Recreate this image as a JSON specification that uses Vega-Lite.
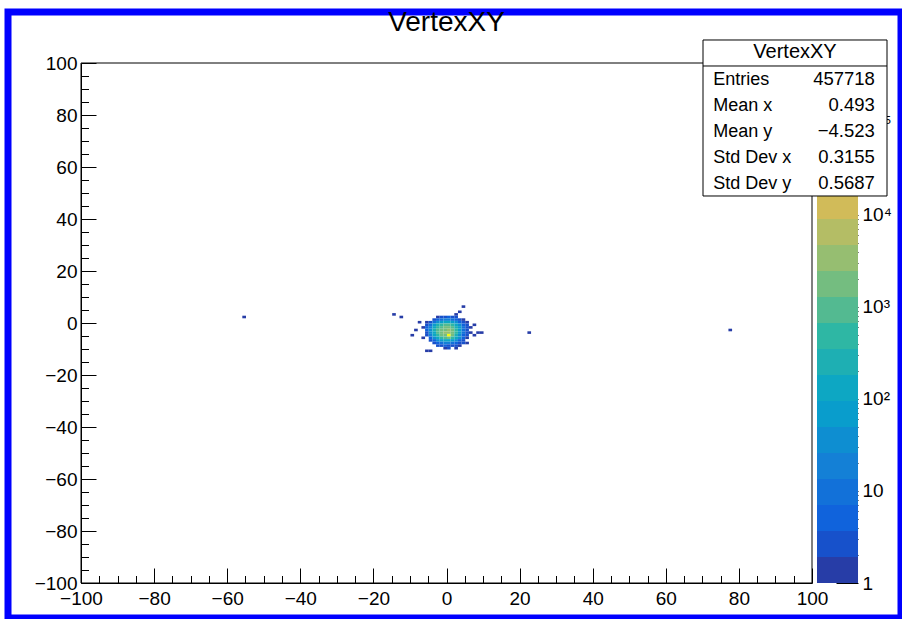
{
  "$schema": "https://vega.github.io/schema/vega-lite/v6.json",
  "width": 893,
  "height": 606,
  "autosize": "none",
  "padding": {"left": 8, "top": 12, "right": 1, "bottom": 1},
  "background": "white",
  "config": {
    "view": {"stroke": "#0000ff", "strokeWidth": 7, "fill": "white"},
    "font": "Liberation Sans",
    "axis": {"grid": false, "labelFont": "Liberation Sans", "labelFontSize": 19, "labelColor": "black", "tickColor": "black", "domainColor": "black", "tickWidth": 1, "domainWidth": 1, "labelFlush": false, "labelOverlap": false, "zindex": 1}
  },
  "datasets": {
    "bins": [
      {"x": 4, "y": 6, "n": 1},
      {"x": 3, "y": 4, "n": 1},
      {"x": 2, "y": 3, "n": 1}, {"x": -15, "y": 3, "n": 1},
      {"x": -56, "y": 2, "n": 1}, {"x": -13, "y": 2, "n": 1}, {"x": -3, "y": 2, "n": 1}, {"x": -2, "y": 2, "n": 3}, {"x": -1, "y": 2, "n": 3}, {"x": 0, "y": 2, "n": 5}, {"x": 1, "y": 2, "n": 3}, {"x": 2, "y": 2, "n": 3},
      {"x": -4, "y": 1, "n": 3}, {"x": -3, "y": 1, "n": 5}, {"x": -2, "y": 1, "n": 10}, {"x": -1, "y": 1, "n": 20}, {"x": 0, "y": 1, "n": 20}, {"x": 1, "y": 1, "n": 10}, {"x": 2, "y": 1, "n": 5}, {"x": 3, "y": 1, "n": 3}, {"x": 4, "y": 1, "n": 1},
      {"x": -8, "y": 0, "n": 1}, {"x": -6, "y": 0, "n": 1}, {"x": -5, "y": 0, "n": 3}, {"x": -4, "y": 0, "n": 10}, {"x": -3, "y": 0, "n": 35}, {"x": -2, "y": 0, "n": 70}, {"x": -1, "y": 0, "n": 130}, {"x": 0, "y": 0, "n": 130}, {"x": 1, "y": 0, "n": 70}, {"x": 2, "y": 0, "n": 35}, {"x": 3, "y": 0, "n": 5}, {"x": 4, "y": 0, "n": 3}, {"x": 5, "y": 0, "n": 1},
      {"x": -6, "y": -1, "n": 3}, {"x": -5, "y": -1, "n": 10}, {"x": -4, "y": -1, "n": 70}, {"x": -3, "y": -1, "n": 250}, {"x": -2, "y": -1, "n": 500}, {"x": -1, "y": -1, "n": 900}, {"x": 0, "y": -1, "n": 900}, {"x": 1, "y": -1, "n": 500}, {"x": 2, "y": -1, "n": 130}, {"x": 3, "y": -1, "n": 35}, {"x": 4, "y": -1, "n": 5}, {"x": 5, "y": -1, "n": 3}, {"x": 7, "y": -1, "n": 1},
      {"x": -7, "y": -2, "n": 1}, {"x": -6, "y": -2, "n": 5}, {"x": -5, "y": -2, "n": 20}, {"x": -4, "y": -2, "n": 130}, {"x": -3, "y": -2, "n": 500}, {"x": -2, "y": -2, "n": 900}, {"x": -1, "y": -2, "n": 1800}, {"x": 0, "y": -2, "n": 1800}, {"x": 1, "y": -2, "n": 900}, {"x": 2, "y": -2, "n": 250}, {"x": 3, "y": -2, "n": 70}, {"x": 4, "y": -2, "n": 10}, {"x": 5, "y": -2, "n": 3}, {"x": 6, "y": -2, "n": 1},
      {"x": -9, "y": -3, "n": 1}, {"x": -6, "y": -3, "n": 5}, {"x": -5, "y": -3, "n": 35}, {"x": -4, "y": -3, "n": 250}, {"x": -3, "y": -3, "n": 900}, {"x": -2, "y": -3, "n": 1800}, {"x": -1, "y": -3, "n": 1800}, {"x": 0, "y": -3, "n": 3500}, {"x": 1, "y": -3, "n": 1800}, {"x": 2, "y": -3, "n": 500}, {"x": 3, "y": -3, "n": 70}, {"x": 4, "y": -3, "n": 10}, {"x": 5, "y": -3, "n": 3}, {"x": 77, "y": -3, "n": 1},
      {"x": -6, "y": -4, "n": 3}, {"x": -5, "y": -4, "n": 35}, {"x": -4, "y": -4, "n": 130}, {"x": -3, "y": -4, "n": 900}, {"x": -2, "y": -4, "n": 1800}, {"x": -1, "y": -4, "n": 3500}, {"x": 0, "y": -4, "n": 3500}, {"x": 1, "y": -4, "n": 1800}, {"x": 2, "y": -4, "n": 500}, {"x": 3, "y": -4, "n": 70}, {"x": 4, "y": -4, "n": 10}, {"x": 5, "y": -4, "n": 3}, {"x": 6, "y": -4, "n": 1}, {"x": 8, "y": -4, "n": 1}, {"x": 9, "y": -4, "n": 1}, {"x": 22, "y": -4, "n": 1},
      {"x": -10, "y": -5, "n": 1}, {"x": -6, "y": -5, "n": 3}, {"x": -5, "y": -5, "n": 20}, {"x": -4, "y": -5, "n": 130}, {"x": -3, "y": -5, "n": 500}, {"x": -2, "y": -5, "n": 1800}, {"x": -1, "y": -5, "n": 1800}, {"x": 0, "y": -5, "n": 440000}, {"x": 1, "y": -5, "n": 1800}, {"x": 2, "y": -5, "n": 250}, {"x": 3, "y": -5, "n": 35}, {"x": 4, "y": -5, "n": 5}, {"x": 5, "y": -5, "n": 3}, {"x": 7, "y": -5, "n": 1},
      {"x": -7, "y": -6, "n": 1}, {"x": -5, "y": -6, "n": 5}, {"x": -4, "y": -6, "n": 35}, {"x": -3, "y": -6, "n": 130}, {"x": -2, "y": -6, "n": 500}, {"x": -1, "y": -6, "n": 900}, {"x": 0, "y": -6, "n": 1800}, {"x": 1, "y": -6, "n": 500}, {"x": 2, "y": -6, "n": 130}, {"x": 3, "y": -6, "n": 35}, {"x": 4, "y": -6, "n": 5}, {"x": 5, "y": -6, "n": 1},
      {"x": -5, "y": -7, "n": 3}, {"x": -4, "y": -7, "n": 5}, {"x": -3, "y": -7, "n": 35}, {"x": -2, "y": -7, "n": 70}, {"x": -1, "y": -7, "n": 130}, {"x": 0, "y": -7, "n": 130}, {"x": 1, "y": -7, "n": 70}, {"x": 2, "y": -7, "n": 35}, {"x": 3, "y": -7, "n": 5}, {"x": 4, "y": -7, "n": 3},
      {"x": -4, "y": -8, "n": 3}, {"x": -3, "y": -8, "n": 5}, {"x": -2, "y": -8, "n": 10}, {"x": -1, "y": -8, "n": 20}, {"x": 0, "y": -8, "n": 20}, {"x": 1, "y": -8, "n": 10}, {"x": 2, "y": -8, "n": 5}, {"x": 3, "y": -8, "n": 3}, {"x": 4, "y": -8, "n": 3}, {"x": 5, "y": -8, "n": 1},
      {"x": -3, "y": -9, "n": 3}, {"x": -2, "y": -9, "n": 3}, {"x": -1, "y": -9, "n": 5}, {"x": 0, "y": -9, "n": 3}, {"x": 1, "y": -9, "n": 3}, {"x": 2, "y": -9, "n": 3}, {"x": 3, "y": -9, "n": 1},
      {"x": -1, "y": -10, "n": 1}, {"x": 0, "y": -10, "n": 3}, {"x": 2, "y": -10, "n": 1},
      {"x": -6, "y": -11, "n": 1}, {"x": -5, "y": -11, "n": 1}
    ],
    "bands": [
      {"lo": 1, "hi": 1.9175}, {"lo": 1.9175, "hi": 3.6752}, {"lo": 3.6752, "hi": 7.0453}, {"lo": 7.0453, "hi": 13.5}, {"lo": 13.5, "hi": 25.88},
      {"lo": 25.88, "hi": 49.62}, {"lo": 49.62, "hi": 95.1}, {"lo": 95.1, "hi": 182.3}, {"lo": 182.3, "hi": 349.5}, {"lo": 349.5, "hi": 669.9},
      {"lo": 669.9, "hi": 1284}, {"lo": 1284, "hi": 2462}, {"lo": 2462, "hi": 4719}, {"lo": 4719, "hi": 9047}, {"lo": 9047, "hi": 17338},
      {"lo": 17338, "hi": 33235}, {"lo": 33235, "hi": 63710}, {"lo": 63710, "hi": 122120}, {"lo": 122120, "hi": 234100}, {"lo": 234100, "hi": 448700}
    ],
    "stats": [
      {"label": "Entries", "value": "457718"},
      {"label": "Mean x", "value": "0.493"},
      {"label": "Mean y", "value": "−4.523"},
      {"label": "Std Dev x", "value": "0.3155"},
      {"label": "Std Dev y", "value": "0.5687"}
    ]
  },
  "resolve": {"scale": {"y": "independent"}, "axis": {"x": "independent", "y": "independent"}},
  "layer": [
    {
      "data": {"name": "bins"},
      "mark": {"type": "rect"},
      "encoding": {
        "x": {"field": "x", "type": "quantitative", "bin": {"binned": true, "step": 1},
              "scale": {"domain": [-100, 100], "range": [73, 804], "nice": false, "zero": false},
              "axis": {"orient": "bottom", "offset": -35, "values": [-100, -80, -60, -40, -20, 0, 20, 40, 60, 80, 100], "format": "d", "tickSize": -15, "labelPadding": 21, "title": null}},
        "y": {"field": "y", "type": "quantitative", "bin": {"binned": true, "step": 1},
              "scale": {"domain": [-100, 100], "range": [571, 51], "nice": false, "zero": false},
              "axis": {"orient": "left", "offset": -73, "values": [-100, -80, -60, -40, -20, 0, 20, 40, 60, 80, 100], "format": "d", "tickSize": -15, "labelPadding": 19, "labelBaseline": "middle", "title": null}},
        "color": {"field": "n", "type": "quantitative",
                  "scale": {"type": "threshold", "domain": [1.9175, 3.6752, 7.0453, 13.5, 25.88, 49.62, 95.1, 182.3, 349.5, 669.9, 1284, 2462, 4719, 9047, 17338, 33235, 63710, 122120, 234100],
                            "range": ["#273da7", "#1751cb", "#1063dc", "#1271d9", "#1480d6", "#0e8ed1", "#099dcc", "#0da7c3", "#1eafb3", "#2eb7a4", "#53ba91", "#74bd80", "#96be71", "#b4bd65", "#d1bb59", "#e3c04a", "#f5c63a", "#fdd32a", "#fbe81c", "#f9fb0e"]},
                  "legend": null}
      }
    },
    {
      "data": {"values": [{}]},
      "mark": {"type": "rect", "fillOpacity": 0, "stroke": "black", "strokeWidth": 1},
      "encoding": {
        "x": {"datum": -100, "type": "quantitative",
              "scale": {"domain": [-100, 100], "range": [73, 804], "nice": false, "zero": false},
              "axis": {"orient": "bottom", "offset": -35, "values": [-95, -90, -85, -75, -70, -65, -55, -50, -45, -35, -30, -25, -15, -10, -5, 5, 10, 15, 25, 30, 35, 45, 50, 55, 65, 70, 75, 85, 90, 95], "tickSize": -7.5, "labels": false, "domain": false, "title": null}},
        "x2": {"datum": 100},
        "y": {"datum": -100, "type": "quantitative",
              "scale": {"domain": [-100, 100], "range": [571, 51], "nice": false, "zero": false},
              "axis": {"orient": "left", "offset": -73, "values": [-95, -90, -85, -75, -70, -65, -55, -50, -45, -35, -30, -25, -15, -10, -5, 5, 10, 15, 25, 30, 35, 45, 50, 55, 65, 70, 75, 85, 90, 95], "tickSize": -7.5, "labels": false, "domain": false, "title": null}},
        "y2": {"datum": 100}
      }
    },
    {
      "data": {"name": "bands"},
      "mark": {"type": "rect"},
      "encoding": {
        "x": {"datum": 101.37, "type": "quantitative", "scale": {"domain": [-100, 100], "range": [73, 804], "nice": false, "zero": false}, "axis": null},
        "x2": {"datum": 112.59},
        "y": {"field": "lo", "type": "quantitative",
              "scale": {"type": "log", "domain": [1, 448700], "range": [571, 51], "nice": false},
              "axis": {"orient": "right", "offset": -43, "values": [2, 3, 4, 5, 6, 7, 8, 9, 20, 30, 40, 50, 60, 70, 80, 90, 200, 300, 400, 500, 600, 700, 800, 900, 2000, 3000, 4000, 5000, 6000, 7000, 8000, 9000], "tickSize": -11, "labels": false, "domain": false, "title": null}},
        "y2": {"field": "hi"},
        "color": {"field": "lo", "type": "quantitative",
                  "scale": {"type": "threshold", "domain": [1.9175, 3.6752, 7.0453, 13.5, 25.88, 49.62, 95.1, 182.3, 349.5, 669.9, 1284, 2462, 4719, 9047, 17338, 33235, 63710, 122120, 234100],
                            "range": ["#273da7", "#1751cb", "#1063dc", "#1271d9", "#1480d6", "#0e8ed1", "#099dcc", "#0da7c3", "#1eafb3", "#2eb7a4", "#53ba91", "#74bd80", "#96be71", "#b4bd65", "#d1bb59", "#e3c04a", "#f5c63a", "#fdd32a", "#fbe81c", "#f9fb0e"]},
                  "legend": null}
      }
    },
    {
      "data": {"name": "bands"},
      "mark": {"type": "rect", "opacity": 0},
      "encoding": {
        "x": {"datum": 101.37, "type": "quantitative", "scale": {"domain": [-100, 100], "range": [73, 804], "nice": false, "zero": false}, "axis": null},
        "x2": {"datum": 112.59},
        "y": {"field": "lo", "type": "quantitative",
              "scale": {"type": "log", "domain": [1, 448700], "range": [571, 51], "nice": false},
              "axis": {"orient": "right", "offset": -43, "values": [1, 10, 100, 1000, 10000], "tickSize": -22, "labels": false, "domain": false, "title": null}},
        "y2": {"field": "hi"}
      }
    },
    {
      "data": {"values": [{}]},
      "mark": {"type": "rect", "fill": "white", "stroke": "black", "strokeWidth": 1},
      "encoding": {
        "x": {"datum": 70.18, "type": "quantitative", "scale": {"domain": [-100, 100], "range": [73, 804], "nice": false, "zero": false}, "axis": null},
        "x2": {"datum": 120.52},
        "y": {"datum": 48.85, "type": "quantitative", "scale": {"domain": [-100, 100], "range": [571, 51], "nice": false, "zero": false}, "axis": null},
        "y2": {"datum": 108.85}
      }
    },
    {
      "data": {"values": [{}]},
      "mark": {"type": "rule", "color": "black", "strokeWidth": 1},
      "encoding": {
        "x": {"datum": 70.18, "type": "quantitative", "scale": {"domain": [-100, 100], "range": [73, 804], "nice": false, "zero": false}, "axis": null},
        "x2": {"datum": 120.52},
        "y": {"datum": 98.85, "type": "quantitative", "scale": {"domain": [-100, 100], "range": [571, 51], "nice": false, "zero": false}, "axis": null}
      }
    },
    {
      "data": {"values": [{}]},
      "mark": {"type": "text", "text": "VertexXY", "font": "Liberation Sans", "fontSize": 20, "align": "center", "baseline": "alphabetic", "color": "black"},
      "encoding": {
        "x": {"datum": 95.35, "type": "quantitative", "scale": {"domain": [-100, 100], "range": [73, 804], "nice": false, "zero": false}, "axis": null},
        "y": {"datum": 101.9, "type": "quantitative", "scale": {"domain": [-100, 100], "range": [571, 51], "nice": false, "zero": false}, "axis": null}
      }
    },
    {
      "data": {"name": "stats"},
      "mark": {"type": "text", "font": "Liberation Sans", "fontSize": 18, "align": "left", "baseline": "alphabetic", "color": "black"},
      "encoding": {
        "x": {"datum": 73.0, "type": "quantitative", "scale": {"domain": [-100, 100], "range": [73, 804], "nice": false, "zero": false}, "axis": null},
        "y": {"field": "label", "type": "ordinal", "scale": {"type": "point", "domain": ["Entries", "Mean x", "Mean y", "Std Dev x", "Std Dev y"], "range": [73, 176.5], "padding": 0}, "axis": null},
        "text": {"field": "label"}
      }
    },
    {
      "data": {"name": "stats"},
      "mark": {"type": "text", "font": "Liberation Sans", "fontSize": 18.5, "align": "right", "baseline": "alphabetic", "color": "black"},
      "encoding": {
        "x": {"datum": 117.2, "type": "quantitative", "scale": {"domain": [-100, 100], "range": [73, 804], "nice": false, "zero": false}, "axis": null},
        "y": {"field": "label", "type": "ordinal", "scale": {"type": "point", "domain": ["Entries", "Mean x", "Mean y", "Std Dev x", "Std Dev y"], "range": [73, 176.5], "padding": 0}, "axis": null},
        "text": {"field": "value"}
      }
    },
    {
      "data": {"name": "bands"},
      "mark": {"type": "rect", "opacity": 0},
      "encoding": {
        "x": {"datum": 101.37, "type": "quantitative", "scale": {"domain": [-100, 100], "range": [73, 804], "nice": false, "zero": false}, "axis": null},
        "x2": {"datum": 112.59},
        "y": {"field": "lo", "type": "quantitative",
              "scale": {"type": "log", "domain": [1, 448700], "range": [571, 51], "nice": false},
              "axis": {"orient": "right", "offset": -43, "values": [1, 10, 100, 1000, 10000, 100000], "ticks": false, "tickSize": 0, "labelPadding": 4, "labelAlign": "left", "labelBaseline": "middle", "domain": false, "title": null,
                       "labelExpr": "datum.value == 1 ? '1' : datum.value == 10 ? '10' : datum.value == 100 ? '10²' : datum.value == 1000 ? '10³' : datum.value == 10000 ? '10⁴' : '10⁵'"}},
        "y2": {"field": "hi"}
      }
    },
    {
      "data": {"values": [{}]},
      "mark": {"type": "text", "text": "VertexXY", "font": "Liberation Sans", "fontSize": 28, "align": "center", "baseline": "alphabetic", "color": "black"},
      "encoding": {
        "x": {"datum": 0, "type": "quantitative", "scale": {"domain": [-100, 100], "range": [73, 804], "nice": false, "zero": false}, "axis": null},
        "y": {"datum": 112.3, "type": "quantitative", "scale": {"domain": [-100, 100], "range": [571, 51], "nice": false, "zero": false}, "axis": null}
      }
    }
  ]
}
